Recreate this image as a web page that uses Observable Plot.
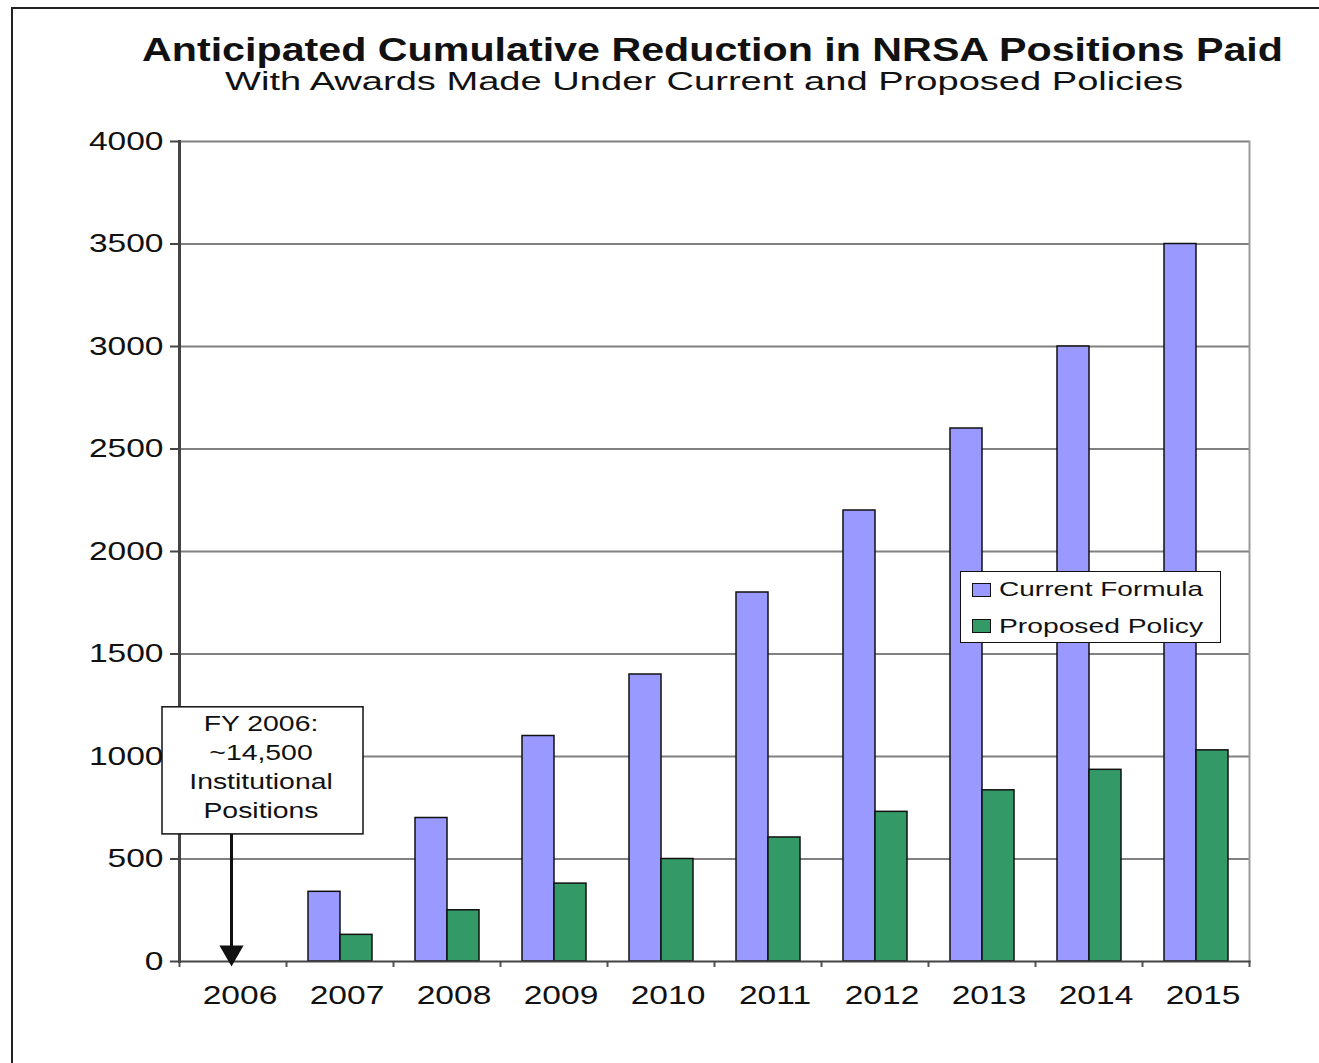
<!DOCTYPE html>
<html>
<head>
<meta charset="utf-8">
<script src="https://cdn.jsdelivr.net/npm/d3@7"></script>
<script src="https://cdn.jsdelivr.net/npm/@observablehq/plot@0.6"></script>
<style>
  html, body { margin: 0; padding: 0; background: #fff; overflow: hidden; }
  body { width: 1319px; height: 1063px; position: relative; font-family: "Liberation Sans", Arial, sans-serif; color: #111; }
  #frame { position: absolute; left: 11px; top: 7px; width: 1400px; height: 1200px; border-left: 2px solid #222; border-top: 2px solid #222; z-index: 5; pointer-events: none; }
  .stretch { position: absolute; white-space: nowrap; line-height: 1; transform-origin: 0 0; }
  #t1 { top: 33px; font-size: 33px; font-weight: bold; }
  #t2 { top: 68px; font-size: 26px; }
  #chart { position: absolute; left: 0; top: 110px; }
  #legendBox { position: absolute; left: 960px; top: 571px; width: 259px; height: 70px; background: #fff; border: 1.5px solid #111; z-index: 2; }
  .sw { position: absolute; width: 17px; height: 12px; border: 1.5px solid #111; z-index: 3; }
  .lg { font-size: 21px; z-index: 3; }
</style>
</head>
<body>
<div id="frame"></div>
<div class="stretch" id="t1">Anticipated Cumulative Reduction in NRSA Positions Paid</div>
<div class="stretch" id="t2">With Awards Made Under Current and Proposed Policies</div>
<div id="chart"></div>
<div id="legendBox"></div>
<div class="sw" style="left:972px; top:583px; background:#9999FF"></div>
<div class="stretch lg" id="lg1" style="top:578px">Current Formula</div>
<div class="sw" style="left:972px; top:619px; background:#339966"></div>
<div class="stretch lg" id="lg2" style="top:615px">Proposed Policy</div>
<script>
const years = ["2006","2007","2008","2009","2010","2011","2012","2013","2014","2015"];
const currentFormula = [0, 340, 700, 1100, 1400, 1800, 2200, 2600, 3000, 3500];
const proposedPolicy = [0, 130, 250, 380, 500, 605, 730, 835, 935, 1030];
const yTicks = [0, 500, 1000, 1500, 2000, 2500, 3000, 3500, 4000];
const annotationText = "FY 2006:\n~14,500\nInstitutional\nPositions";
const annotationYear = "2006";

const current = years.map((y, i) => ({year: y, value: currentFormula[i]})).filter(d => d.value > 0);
const proposed = years.map((y, i) => ({year: y, value: proposedPolicy[i]})).filter(d => d.value > 0);

// horizontally stretch HTML text to the reference extents (left edge, width)
function stretch(id, left, width) {
  const el = document.getElementById(id);
  const w = el.getBoundingClientRect().width;
  el.style.left = left + "px";
  el.style.transform = `scaleX(${width / w})`;
}
stretch("t1", 142, 1141);
stretch("t2", 225, 958);
stretch("lg1", 999, 204);
stretch("lg2", 999, 204);

const W = 1319, H = 953;
const bw = 1070 / years.length;
const chart = Plot.plot({
  width: W,
  height: H,
  marginLeft: 179,
  marginRight: 70,
  marginTop: 31,
  marginBottom: 102,
  style: {fontFamily: "Liberation Sans, Arial, sans-serif", fontSize: "26px", color: "#111", background: "transparent"},
  x: {domain: years, padding: 0, label: null},
  y: {domain: [0, 4000], label: null},
  marks: [
    Plot.ruleY(yTicks.filter(d => d > 0), {stroke: "#808080", strokeWidth: 2, strokeOpacity: 1}),
    Plot.frame({anchor: "right", stroke: "#9a9a9a", strokeWidth: 2}),
    Plot.barY(current, {x: "year", y: "value", fill: "#9999FF", stroke: "#111", strokeWidth: 1.5, insetLeft: 22, insetRight: bw - 54}),
    Plot.barY(proposed, {x: "year", y: "value", fill: "#339966", stroke: "#111", strokeWidth: 1.5, insetLeft: 54, insetRight: bw - 86}),
    Plot.axisY({ticks: yTicks, tickSize: 9, tickPadding: 7, tickFormat: d => String(d), stroke: "#444", strokeWidth: 2, label: null, fontSize: 26}),
    Plot.axisX({tickSize: 0, tickPadding: 24, label: null, fontSize: 26, dx: 7}),
    Plot.axisX({ticks: years, tickSize: 6, text: null, dx: -bw / 2, stroke: "#555", strokeWidth: 2, label: null}),
    Plot.axisX({ticks: [years[years.length - 1]], tickSize: 6, text: null, dx: bw / 2, stroke: "#555", strokeWidth: 2, label: null}),
    Plot.frame({anchor: "left", stroke: "#444", strokeWidth: 3}),
    Plot.frame({anchor: "bottom", stroke: "#444", strokeWidth: 2}),
    // annotation
    Plot.ruleX([annotationYear], {x: d => d, y1: 60, y2: 620, stroke: "#111", strokeWidth: 3, dx: -1.5}),
    Plot.dot([annotationYear], {x: d => d, y: 44, symbol: "triangle", rotate: 180, r: 8, fill: "#111", stroke: "#111", dx: -1.5}),
    Plot.barY([annotationYear], {x: d => d, y1: 620, y2: 1240, fill: "white", stroke: "#111", strokeWidth: 1.5, insetLeft: -17, insetRight: -77}),
    Plot.text([annotationText], {x: () => annotationYear, y: 958, text: d => d, dx: 28, fontSize: 22, lineHeight: 1.32, fill: "#111", textAnchor: "middle", lineAnchor: "middle"})
  ]
});
document.getElementById("chart").appendChild(chart);

// the reference's lettering is horizontally stretched; widen each label about its anchor
chart.querySelectorAll('g[aria-label="y-axis tick label"] text, g[aria-label="x-axis tick label"] text, g[aria-label="text"] text').forEach(t => {
  const tr = t.getAttribute("transform") || "";
  t.setAttribute("transform", tr + " scale(1.29,1)");
});
</script>
</body>
</html>
